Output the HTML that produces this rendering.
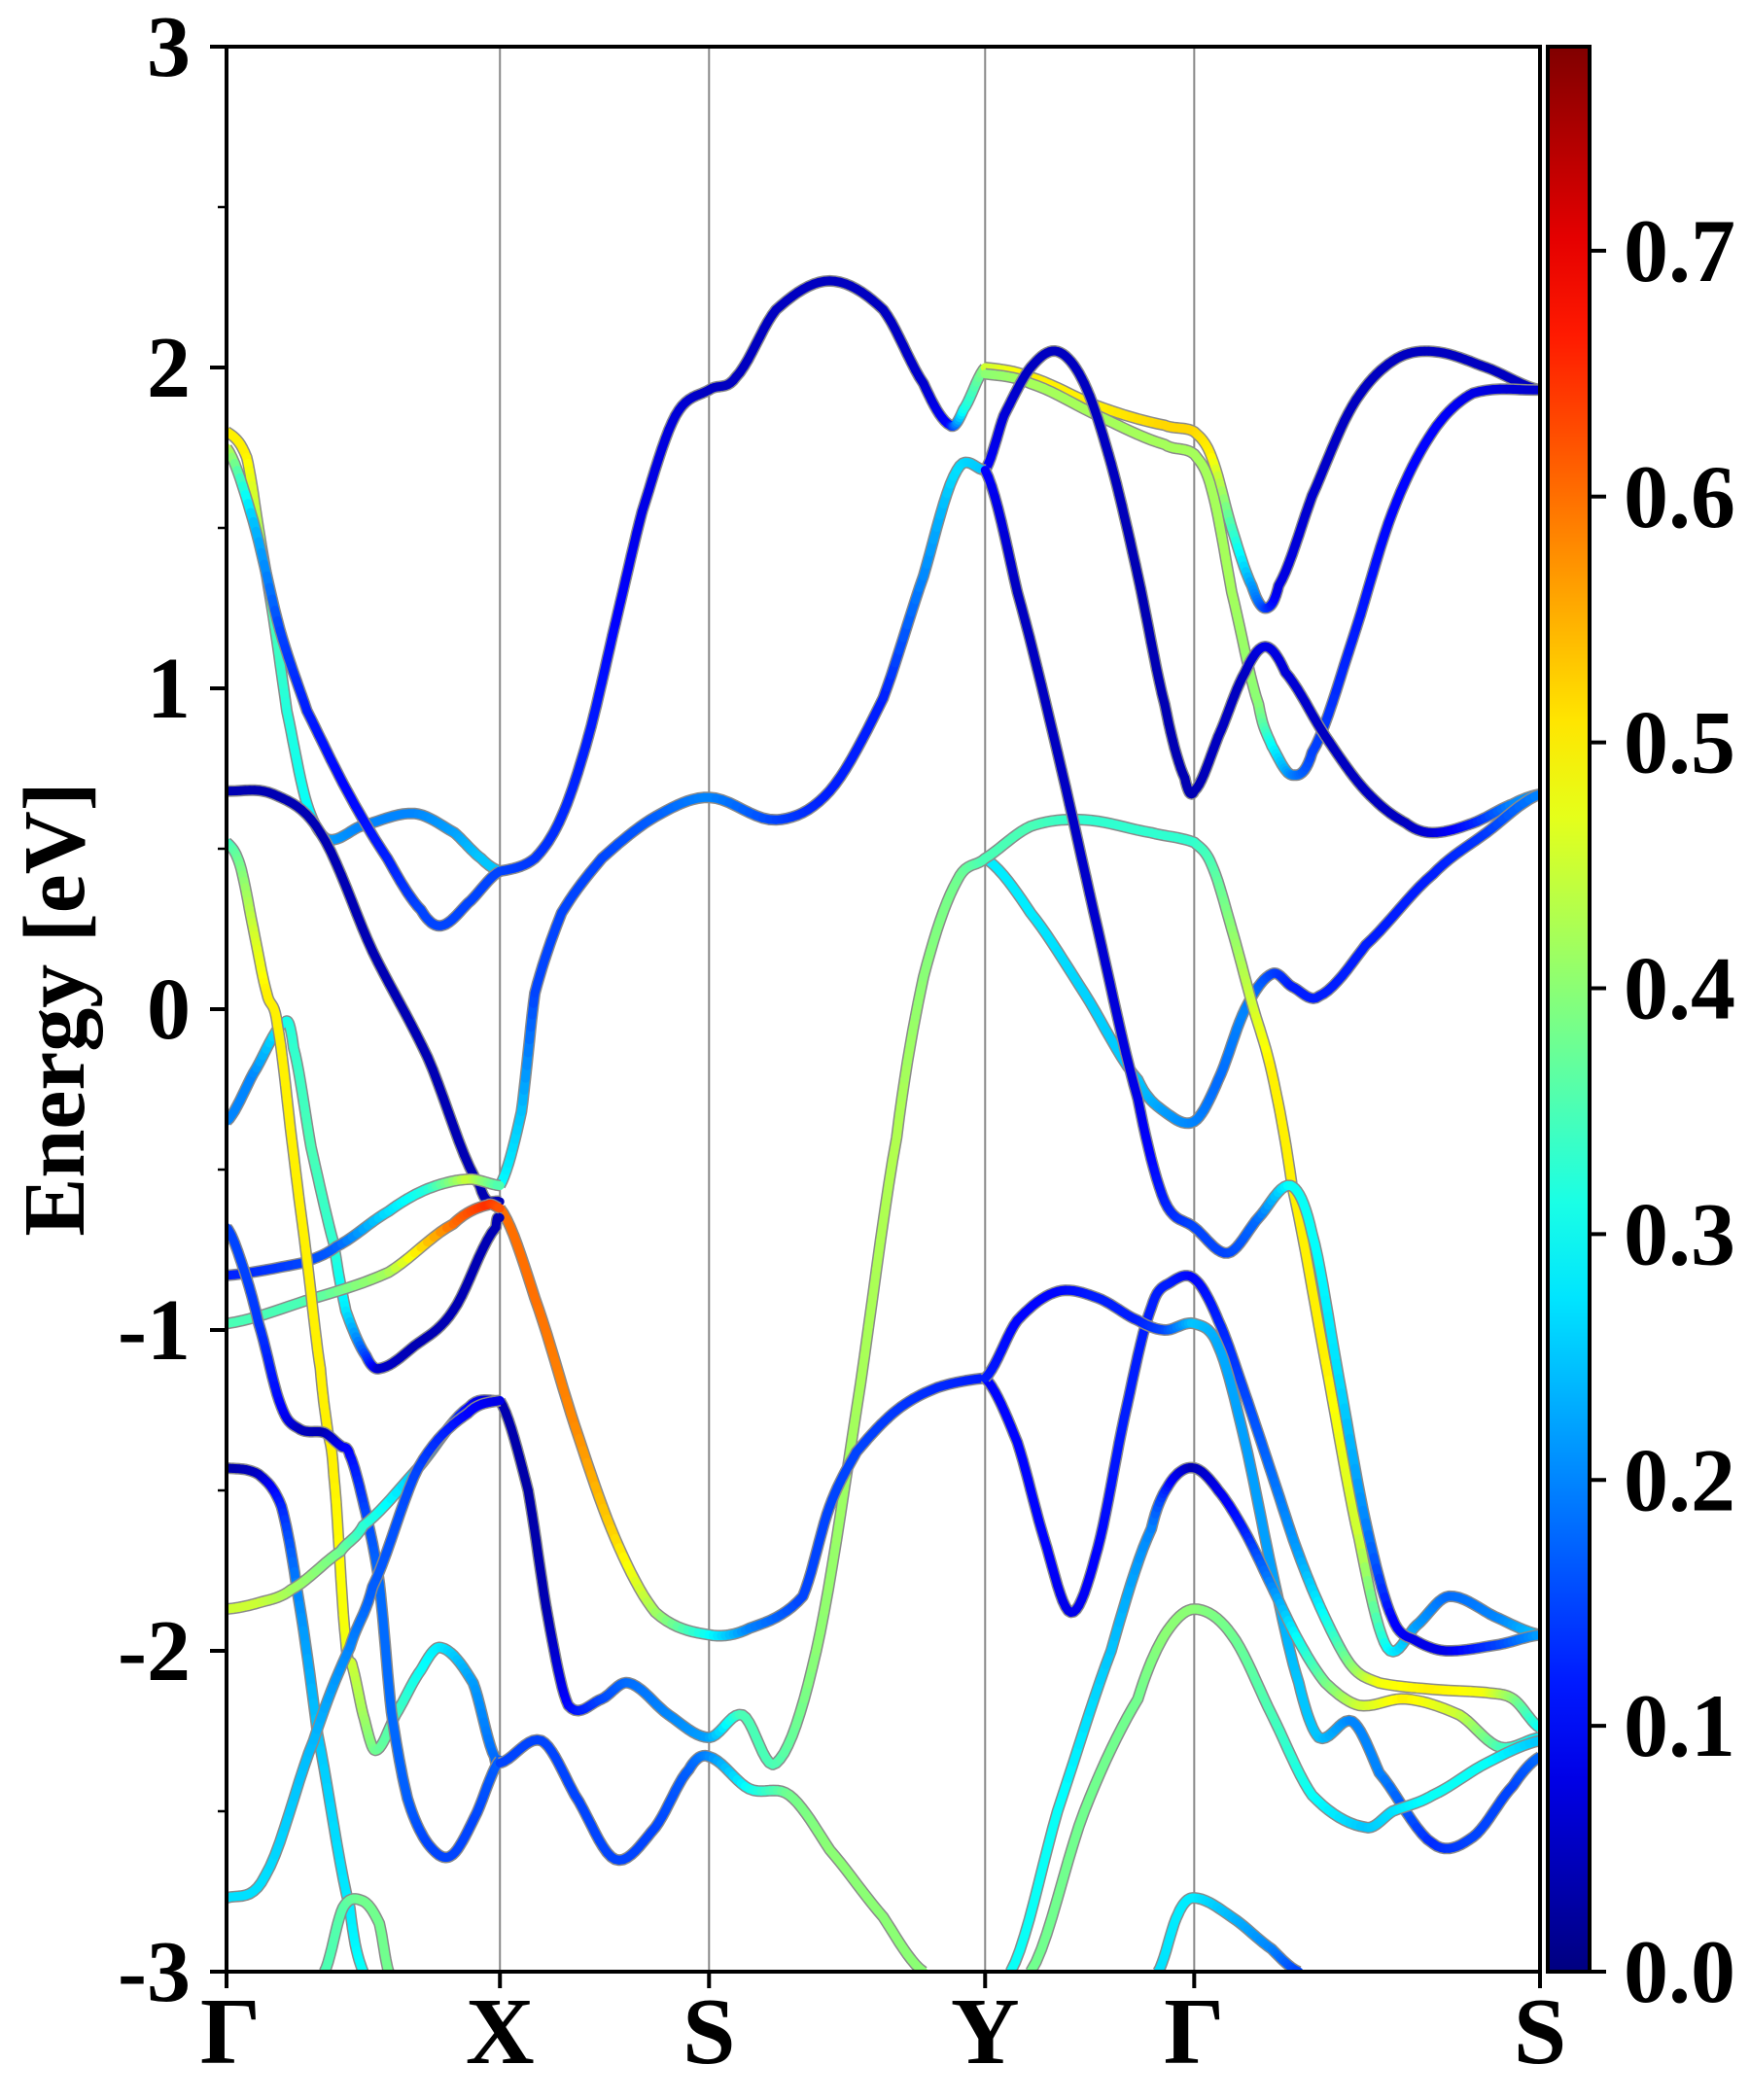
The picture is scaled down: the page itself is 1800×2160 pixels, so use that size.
<!DOCTYPE html>
<html><head><meta charset="utf-8"><style>
html,body{margin:0;padding:0;background:#fff;}
svg{display:block;}
text{font-family:"Liberation Serif",serif;font-weight:bold;fill:#000;}
</style></head><body>
<svg id="chart" width="1800" height="2160" viewBox="0 0 1800 2160" xmlns="http://www.w3.org/2000/svg">
<defs>
<clipPath id="plotclip"><rect x="233" y="48" width="1351" height="1980"/></clipPath>
<linearGradient id="jetgrad" x1="0" y1="1" x2="0" y2="0"></linearGradient>
</defs>
<g id="gridlines"></g>
<g id="bands" clip-path="url(#plotclip)"></g>
<rect x="233" y="48" width="1351" height="1980" fill="none" stroke="#000" stroke-width="4"/>
<g id="axes"></g>
<text transform="translate(86,1038) rotate(-90)" text-anchor="middle" font-size="90">Energy [eV]</text>
<rect x="1592" y="48" width="43" height="1980" fill="url(#jetgrad)" stroke="#000" stroke-width="4"/>
<g id="cbaxis"></g>
</svg>
<script>
const kTicks = [0, 2.04, 3.6, 5.66, 7.22, 9.8];
const kLabels = ['Γ', 'X', 'S', 'Y', 'Γ', 'S'];
const yTicks = [-3, -2, -1, 0, 1, 2, 3];
const yTickLabels = ['-3', '-2', '-1', '0', '1', '2', '3'];
const cbTicks = [0, 0.1, 0.2, 0.3, 0.4, 0.5, 0.6, 0.7];
const cbTickLabels = ['0.0', '0.1', '0.2', '0.3', '0.4', '0.5', '0.6', '0.7'];
const cbMax = 0.783;

const bandK = [
 [0,.15,.25,.35,.45,.6,.75,1.0,1.4,1.7,1.9,2.04],
 [0,.2,.4,.6,.9,1.2,1.45,1.6,1.8,2.04],
 [2.04,2.3,2.5,2.7,2.9,3.1,3.35,3.6,3.8,4.1,4.5,4.9,5.2,5.4,5.5,5.66],
 [5.66,6.0,6.5,7.0,7.22,7.35,7.5,7.65,7.75,7.85,8.1,8.4,8.7,9.0,9.4,9.8],
 [5.66,6.0,6.5,7.0,7.22,7.35,7.5,7.7,7.8,7.95,8.1,8.4,8.7,9.0,9.3,9.8],
 [5.66,5.8,6.0,6.2,6.4,6.6,6.8,7.0,7.15,7.22,7.4,7.6,7.75,7.9,8.2,8.5,8.8,9.0,9.3,9.6,9.8],
 [5.66,6.0,6.4,6.8,7.0,7.22,7.4,7.6,7.8,7.95,8.15,8.5,9.0,9.4,9.8],
 [2.04,2.25,2.4,2.55,2.8,3.0,3.3,3.6,3.85,4.1,4.4,4.7,5.0,5.2,5.45,5.66,6.0,6.4,6.9,7.22,7.35,7.5,7.65,7.8,7.95,8.2,8.45,8.66,8.88,9.12,9.5,9.8],
 [2.04,2.2,2.3,2.5,2.8,3.2,3.6,4.1,4.5,4.9,5.2,5.45,5.66],
 [2.04,2.3,2.6,2.9,3.2,3.6,3.9,4.3,4.5,4.7,5.0,5.3,5.66],
 [5.66,5.9,6.1,6.3,6.5,6.7,6.9,7.05,7.22,7.4,7.6,7.8,8.0,8.2,8.4,8.6,9.0,9.4,9.6,9.8],
 [5.66,5.9,6.2,6.5,6.8,7.0,7.22,7.4,7.6,7.8,8.0,8.15,8.4,8.6,9.0,9.3,9.6,9.8],
 [5.66,5.9,6.2,6.5,6.8,7.0,7.22,7.47,7.7,7.94,8.1,8.3,8.5,8.7,8.88,9.1,9.5,9.8],
 [5.85,6.2,6.6,6.9,7.05,7.22,7.4,7.6,7.8,8.0,8.2,8.45,8.8,9.2,9.5,9.8],
 [6.0,6.4,6.8,7.0,7.22,7.5,7.8,8.1,8.5,8.7,9.0,9.4,9.8],
 [6.95,7.1,7.22,7.5,7.8,8.0],
 [0,.35,.7,1.09,1.5,1.89,2.04],
 [0,.2,.44,.5,.63,.8,.89,1.04,1.14,1.4,1.69,2.01,2.04],
 [0,.58,.82,1.21,1.5,1.81,2.04],
 [0,.58,1.21,1.69,1.95,2.04],
 [0,.1,.2,.3,.38,.5,.6,.7,.75,.8,.89,.94,1.02,1.11,1.26,1.45,1.6,1.84,2.0,2.04],
 [0,.12,.24,.41,.55,.73,.85,.92,1.04,1.14,1.23,1.35,1.5,1.67,1.85,2.04],
 [0,.24,.41,.53,.68,.92,1.02],
 [0,.24,.48,.85,1.02,1.43,1.81,2.04],
 [0,.29,.65,.92,1.09,1.43,1.8,2.04],
 [.73,.87,1.02,1.14,1.21],
 [2.04,2.35,2.6,2.9,3.2,3.45,3.6,3.9,4.2,4.5,4.9,5.2]
];
const bandE = [
 [1.80,1.72,1.47,1.22,0.93,0.64,0.53,0.57,0.61,0.55,0.47,0.43],
 [1.75,1.52,1.18,0.93,0.68,0.47,0.31,0.26,0.33,0.43],
 [0.43,0.47,0.6,0.85,1.2,1.55,1.85,1.93,1.97,2.18,2.27,2.18,1.95,1.82,1.87,2.0],
 [2.0,1.97,1.88,1.82,1.80,1.72,1.5,1.32,1.25,1.32,1.6,1.88,2.02,2.05,2.0,1.93],
 [1.98,1.95,1.85,1.76,1.73,1.62,1.3,0.95,0.82,0.73,0.8,1.15,1.55,1.8,1.92,1.93],
 [1.68,1.85,2.0,2.05,1.95,1.7,1.35,0.95,0.72,0.68,0.85,1.05,1.13,1.05,0.85,0.68,0.58,0.55,0.58,0.64,0.67],
 [.47,.3,.05,-.22,-.32,-.35,-.22,0.0,.11,.07,.04,.2,.42,.55,.67],
 [-1.22,-1.5,-1.9,-2.17,-2.15,-2.1,-2.2,-2.27,-2.2,-2.35,-2.0,-1.25,-0.4,0.1,0.4,0.47,0.57,0.59,0.55,0.52,0.45,0.25,0.02,-0.2,-0.55,-1.1,-1.65,-1.99,-1.92,-1.83,-1.9,-1.95],
 [-0.55,-0.32,0.05,0.3,0.47,0.6,0.66,0.59,0.68,0.97,1.35,1.68,1.68],
 [-0.62,-0.9,-1.3,-1.65,-1.88,-1.95,-1.93,-1.83,-1.55,-1.38,-1.25,-1.18,-1.15],
 [-1.15,-1.35,-1.65,-1.88,-1.68,-1.27,-0.93,-0.85,-0.84,-0.97,-1.2,-1.45,-1.7,-1.9,-2.05,-2.1,-2.12,-2.13,-2.15,-2.24],
 [-1.15,-0.97,-0.88,-0.9,-0.97,-1.0,-0.98,-1.05,-1.35,-1.75,-2.1,-2.27,-2.22,-2.38,-2.6,-2.58,-2.42,-2.33],
 [1.68,1.3,0.8,0.25,-0.28,-0.6,-0.68,-0.76,-0.65,-0.55,-0.7,-1.15,-1.6,-1.9,-1.97,-2.0,-1.98,-1.95],
 [-3.0,-2.5,-2.0,-1.62,-1.47,-1.43,-1.5,-1.63,-1.8,-1.97,-2.1,-2.17,-2.15,-2.2,-2.3,-2.27],
 [-3.0,-2.5,-2.15,-1.95,-1.87,-1.95,-2.2,-2.45,-2.55,-2.5,-2.45,-2.35,-2.28],
 [-3.0,-2.82,-2.77,-2.83,-2.93,-3.0],
 [.68,.67,.55,.18,-.15,-.55,-.6],
 [-.35,-.2,-.04,-.12,-.43,-.73,-.94,-1.08,-1.12,-1.05,-.94,-.68,-.65],
 [-.83,-.79,-.74,-.63,-.56,-.53,-.55],
 [-.98,-.91,-.82,-.67,-.61,-.62],
 [.52,.45,.25,.05,-.05,-.45,-.78,-1.12,-1.3,-1.45,-1.97,-2.05,-2.2,-2.31,-2.2,-2.06,-1.99,-2.1,-2.33,-2.34],
 [-.68,-.8,-.98,-1.24,-1.31,-1.32,-1.36,-1.39,-1.57,-1.79,-2.19,-2.46,-2.6,-2.64,-2.52,-2.34],
 [-1.43,-1.45,-1.55,-1.82,-2.26,-2.8,-3.0],
 [-1.87,-1.85,-1.81,-1.69,-1.61,-1.43,-1.24,-1.22],
 [-2.77,-2.7,-2.28,-1.99,-1.8,-1.43,-1.26,-1.22],
 [-3.0,-2.8,-2.78,-2.85,-3.0],
 [-2.35,-2.28,-2.45,-2.65,-2.55,-2.37,-2.33,-2.43,-2.45,-2.62,-2.83,-3.0]
];
const bandW = [
 [.5,.5,.42,.35,.32,.3,.22,.2,.2,.22,.25,.25],
 [.45,.25,.15,.12,.1,.12,.15,.15,.15,.15],
 [.15,.14,.13,.12,.1,.08,.07,.05,.05,.05,.05,.05,.06,.1,.3,.4],
 [.45,.5,.5,.52,.52,.5,.35,.22,.15,.08,.06,.05,.05,.05,.05,.05],
 [.4,.42,.42,.42,.42,.42,.42,.4,.3,.2,.15,.12,.1,.1,.08,.06],
 [.1,.07,.05,.05,.05,.05,.04,.04,.04,.04,.05,.05,.08,.07,.05,.05,.05,.07,.12,.2,.22],
 [.28,.28,.26,.25,.22,.2,.18,.2,.15,.12,.12,.12,.12,.14,.2],
 [.04,.03,.04,.1,.15,.18,.2,.22,.35,.35,.4,.42,.43,.4,.38,.35,.35,.33,.33,.33,.35,.4,.45,.5,.5,.5,.45,.3,.22,.18,.2,.25],
 [.3,.25,.15,.15,.15,.17,.2,.15,.12,.12,.2,.27,.25],
 [.6,.6,.58,.52,.42,.3,.2,.15,.15,.15,.14,.13,.12],
 [.1,.1,.1,.08,.1,.12,.12,.12,.1,.12,.15,.18,.22,.3,.4,.48,.5,.48,.4,.3],
 [.12,.1,.1,.12,.12,.15,.25,.23,.22,.22,.25,.25,.2,.2,.13,.15,.15,.18],
 [.1,.05,.05,.06,.08,.12,.15,.15,.18,.3,.3,.27,.2,.1,.08,.08,.15,.22],
 [.3,.3,.25,.2,.1,.04,.08,.12,.2,.3,.38,.45,.5,.45,.35,.28],
 [.38,.38,.38,.4,.4,.38,.35,.3,.25,.27,.3,.3,.25],
 [.27,.28,.28,.24,.2,.15],
 [.04,.04,.04,.04,.04,.04,.04],
 [.2,.2,.3,.33,.35,.33,.28,.15,.06,.04,.04,.04,.04],
 [.12,.15,.17,.27,.32,.45,.35],
 [.35,.35,.42,.6,.65,.62],
 [.33,.38,.45,.5,.5,.5,.5,.5,.5,.5,.48,.45,.42,.38,.35,.3,.28,.22,.18,.18],
 [.15,.15,.14,.1,.05,.04,.08,.1,.15,.18,.18,.17,.15,.15,.15,.17],
 [.03,.05,.12,.2,.25,.28,.3],
 [.45,.45,.42,.38,.33,.25,.1,.05],
 [.27,.27,.24,.2,.17,.15,.1,.08],
 [.35,.36,.38,.38,.38],
 [.15,.15,.15,.15,.15,.17,.2,.3,.38,.4,.4,.4]
];

const X0 = 233, X1 = 1584, Y0 = 48, Y1 = 2028, KMAX = 9.8, EMIN = -3, EMAX = 3;
function xScale(k){ return X0 + (k / KMAX) * (X1 - X0); }
function yScale(e){ return Y1 - (e - EMIN) / (EMAX - EMIN) * (Y1 - Y0); }
function cbScale(v){ return Y1 - (v / cbMax) * (Y1 - Y0); }
function clamp(v){ return Math.max(0, Math.min(1, v)); }
function jet(t){
  t = clamp(t);
  const r = clamp(1.5 - Math.abs(4*t - 3)), g = clamp(1.5 - Math.abs(4*t - 2)), b = clamp(1.5 - Math.abs(4*t - 1));
  return 'rgb(' + Math.round(r*255) + ',' + Math.round(g*255) + ',' + Math.round(b*255) + ')';
}
const NS = 'http://www.w3.org/2000/svg';
function mk(tag, attrs, parent){
  const el = document.createElementNS(NS, tag);
  for (const a in attrs) el.setAttribute(a, attrs[a]);
  parent.appendChild(el);
  return el;
}
// gradient
const grad = document.getElementById('jetgrad');
for (let i = 0; i <= 20; i++) {
  mk('stop', {offset: (i/20), 'stop-color': jet(i/20)}, grad);
}
// high-symmetry vertical lines
const gl = document.getElementById('gridlines');
kTicks.forEach((k, i) => {
  if (i === 0 || i === kTicks.length - 1) return;
  const ln = mk('line', {x1: xScale(k), x2: xScale(k), y1: Y0, y2: Y1, stroke: '#888', 'stroke-width': 2}, gl);
  
  
});
// catmull-rom sampling
function sample(ks, es, ws){
  const pts = [];
  const n = ks.length;
  for (let i = 0; i < n - 1; i++) {
    const p0 = i > 0 ? i - 1 : i, p3 = i + 2 < n ? i + 2 : i + 1;
    const steps = 10;
    for (let s = 0; s < steps; s++) {
      const t = s / steps, t2 = t*t, t3 = t2*t;
      const cr = (a, b, c, d) => 0.5*((2*b) + (-a + c)*t + (2*a - 5*b + 4*c - d)*t2 + (-a + 3*b - 3*c + d)*t3);
      const kk = ks[i] + (ks[i+1] - ks[i]) * t;
      const ee = cr(es[p0], es[i], es[i+1], es[p3]);
      const ww = ws[i] + (ws[i+1] - ws[i]) * t;
      pts.push([xScale(kk), yScale(ee), ww]);
    }
  }
  pts.push([xScale(ks[n-1]), yScale(es[n-1]), ws[n-1]]);
  return pts;
}
const bg = document.getElementById('bands');
bandK.forEach((ks, bi) => {
  const pts = sample(ks, bandE[bi], bandW[bi]);
  const g = mk('g', {}, bg);
  
  
  const d = pts.map((p, i) => (i ? 'L' : 'M') + p[0].toFixed(1) + ' ' + p[1].toFixed(1)).join(' ');
  mk('path', {d: d, fill: 'none', stroke: '#8a8a8a', 'stroke-width': 12, 'stroke-linejoin': 'round'}, g);
  for (let i = 0; i < pts.length - 1; i++) {
    const w = (pts[i][2] + pts[i+1][2]) / 2;
    mk('line', {x1: pts[i][0].toFixed(1), y1: pts[i][1].toFixed(1), x2: pts[i+1][0].toFixed(1), y2: pts[i+1][1].toFixed(1), stroke: jet(w / cbMax), 'stroke-width': 9, 'stroke-linecap': 'round'}, g);
  }
});
// axes ticks
const ax = document.getElementById('axes');
yTicks.forEach((v, i) => {
  const y = yScale(v);
  const t = mk('line', {x1: X0 - 17, x2: X0, y1: y, y2: y, stroke: '#000', 'stroke-width': 4}, ax);
  
  
  const lb = mk('text', {x: 196, y: y + 30, 'text-anchor': 'end', 'font-size': 90}, ax);
  lb.textContent = yTickLabels[i];
  
  
  if (i < yTicks.length - 1) {
    const ym = yScale(v + 0.5);
    const mt = mk('line', {x1: X0 - 9, x2: X0, y1: ym, y2: ym, stroke: '#000', 'stroke-width': 2.5}, ax);
    
    
  }
});
kTicks.forEach((k, i) => {
  const x = xScale(k);
  const t = mk('line', {x1: x, x2: x, y1: Y1, y2: Y1 + 17, stroke: '#000', 'stroke-width': 4}, ax);
  
  
  const lb = mk('text', {x: x + (i === 0 ? 4 : 0), y: 2122, 'text-anchor': 'middle', 'font-size': 98}, ax);
  lb.textContent = kLabels[i];
  
  
});
const cb = document.getElementById('cbaxis');
cbTicks.forEach((v, i) => {
  const y = cbScale(v);
  const t = mk('line', {x1: 1635, x2: 1652, y1: y, y2: y, stroke: '#000', 'stroke-width': 4}, cb);
  
  
  const lb = mk('text', {x: 1670, y: y + 31, 'font-size': 92}, cb);
  lb.textContent = cbTickLabels[i];
  
  
});
</script>
</body></html>
